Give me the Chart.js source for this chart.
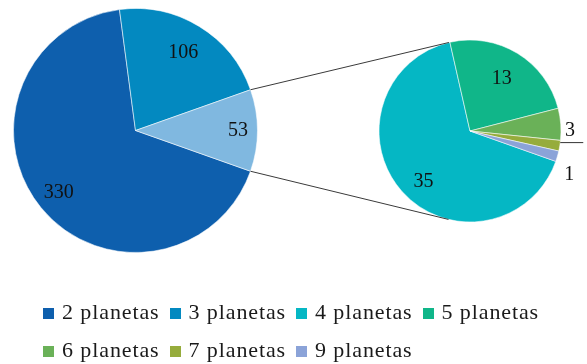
<!DOCTYPE html>
<html>
<head>
<meta charset="utf-8">
<script src="https://cdn.jsdelivr.net/npm/chart.js@4.4.1/dist/chart.umd.min.js"></script>
<style>
  html, body { margin: 0; padding: 0; background: #fff; }
  #stage { position: relative; width: 587px; height: 364px; overflow: hidden; font-family: "Liberation Serif", serif; }
  #stage canvas { position: absolute; }
  .item { position: absolute; height: 22px; line-height: 22px; font-size: 22px; color: #1a1a1a; white-space: nowrap; letter-spacing: 0.9px; }
  .sw { position: absolute; width: 11px; height: 11px; }
</style>
</head>
<body>
<div id="stage">
  <canvas id="mainPie" width="245" height="245" style="left:13px;top:8px"></canvas>
  <canvas id="detailPie" width="227" height="222" style="left:360px;top:20px"></canvas>
  <canvas id="links" width="587" height="364" style="left:0;top:0;pointer-events:none"></canvas>
</div>
<script>
// Planetary systems by number of known planets
const categories   = ['2 planetas', '3 planetas', '4 planetas', '5 planetas', '6 planetas', '7 planetas', '9 planetas'];
const systemCounts = [330, 106, 35, 13, 3, 1, 1];
const mainSliceCount = 2;          // categories shown on their own in the main pie
const otherLabel = 'Otros';

const sliceColors = ['#0e5fad', '#0389c0', '#05b7c4', '#10b689', '#6ab158', '#96ac3c', '#8ba3d8'];
const otherColor  = '#80b8e0';

// Main pie: the first categories plus one slice that groups the rest
const mainLabels = categories.slice(0, mainSliceCount).concat([otherLabel]);
const restValues = systemCounts.slice(mainSliceCount);
const mainValues = systemCounts.slice(0, mainSliceCount).concat([restValues.reduce((a, b) => a + b, 0)]);
const detailLabels = categories.slice(mainSliceCount);

// Rotate so the grouped slice is centred at 3 o'clock
const mainTotal = mainValues.reduce((a, b) => a + b, 0);
const before = mainValues.slice(0, -1).reduce((a, b) => a + b, 0);
const otherSweep = mainValues[mainValues.length - 1] / mainTotal * 360;
const startRotation = 90 - before / mainTotal * 360 - otherSweep / 2;

const labelFont = '20px "Liberation Serif", serif';

function makeLabelPlugin(placement) {
  return {
    id: 'sliceLabels',
    afterDatasetsDraw(chart) {
      const ctx = chart.ctx;
      const meta = chart.getDatasetMeta(0);
      const values = chart.data.datasets[0].data;
      ctx.save();
      ctx.font = labelFont;
      ctx.fillStyle = '#111';
      ctx.strokeStyle = '#333';
      ctx.lineWidth = 1;
      ctx.textBaseline = 'middle';
      meta.data.forEach((arc, i) => {
        const p = placement[i] || { f: 0.75 };
        const mid = (arc.startAngle + arc.endAngle) / 2 + (p.turn || 0) * Math.PI / 180;
        const r = arc.outerRadius;
        if (p.leader) {
          const ex = arc.x + Math.cos(mid) * r;
          const ey = arc.y + Math.sin(mid) * r;
          ctx.beginPath();
          ctx.moveTo(ex, ey);
          ctx.lineTo(ex + p.leader, ey);
          ctx.stroke();
          ctx.textAlign = 'left';
          ctx.fillText(String(values[i]), ex + p.leader + 2, ey);
        } else {
          ctx.textAlign = 'center';
          ctx.fillText(String(values[i]), arc.x + Math.cos(mid) * r * p.f, arc.y + Math.sin(mid) * r * p.f);
        }
      });
      ctx.restore();
    }
  };
}

function pieConfig(labels, values, colors, padding, placement) {
  return {
    type: 'pie',
    data: {
      labels: labels,
      datasets: [{
        data: values,
        backgroundColor: colors,
        borderColor: 'rgba(255,255,255,0.55)',
        borderWidth: 1
      }]
    },
    options: {
      responsive: false,
      animation: false,
      devicePixelRatio: 1,
      rotation: startRotation,
      layout: { padding: padding },
      plugins: { legend: { display: false }, tooltip: { enabled: false } }
    },
    plugins: [makeLabelPlugin(placement)]
  };
}

function drawLinks(mainChart, detailChart) {
  // Connector lines from the grouped slice to the tangents of the detail pie
  const mainCanvas = document.getElementById('mainPie');
  const detailCanvas = document.getElementById('detailPie');
  const ctx = document.getElementById('links').getContext('2d');
  const arc = mainChart.getDatasetMeta(0).data[mainValues.length - 1];
  const mx = mainCanvas.offsetLeft + arc.x, my = mainCanvas.offsetTop + arc.y;
  const detailArc = detailChart.getDatasetMeta(0).data[0];
  const cx = detailCanvas.offsetLeft + detailArc.x, cy = detailCanvas.offsetTop + detailArc.y;
  const R = detailArc.outerRadius;

  function tangent(px, py, sign) {
    const d = Math.hypot(px - cx, py - cy);
    const base = Math.atan2(py - cy, px - cx);
    const a = base + sign * Math.acos(R / d);
    return [cx + Math.cos(a) * R, cy + Math.sin(a) * R];
  }

  const p1 = [mx + Math.cos(arc.startAngle) * arc.outerRadius, my + Math.sin(arc.startAngle) * arc.outerRadius];
  const p2 = [mx + Math.cos(arc.endAngle) * arc.outerRadius, my + Math.sin(arc.endAngle) * arc.outerRadius];
  const t1 = tangent(p1[0], p1[1], 1);
  const t2 = tangent(p2[0], p2[1], -1);

  ctx.strokeStyle = '#3a3a3a';
  ctx.lineWidth = 1;
  ctx.beginPath();
  ctx.moveTo(p1[0], p1[1]); ctx.lineTo(t1[0], t1[1]);
  ctx.moveTo(p2[0], p2[1]); ctx.lineTo(t2[0], t2[1]);
  ctx.stroke();
}

function buildLegend() {
  // Four entries per row
  const stage = document.getElementById('stage');
  const perRow = 4, colWidth = 126.5, left0 = 43, rowTops = [301, 339];
  categories.forEach((name, i) => {
    const row = Math.floor(i / perRow), col = i % perRow;
    const x = left0 + col * colWidth, y = rowTops[row];
    const sw = document.createElement('div');
    sw.className = 'sw';
    sw.style.left = x + 'px';
    sw.style.top = (y + 7) + 'px';
    sw.style.background = sliceColors[i];
    stage.appendChild(sw);
    const t = document.createElement('div');
    t.className = 'item';
    t.style.left = (x + 19) + 'px';
    t.style.top = y + 'px';
    t.textContent = name;
    stage.appendChild(t);
  });
}

function init() {
  const mainChart = new Chart(document.getElementById('mainPie'), pieConfig(
    mainLabels, mainValues,
    sliceColors.slice(0, mainSliceCount).concat([otherColor]),
    0,
    [{ f: 0.81 }, { f: 0.75 }, { f: 0.84 }]
  ));
  const detailChart = new Chart(document.getElementById('detailPie'), pieConfig(
    detailLabels, restValues,
    sliceColors.slice(mainSliceCount),
    { left: 18.5, right: 25.5, top: 19.5, bottom: 19.5 },
    [{ f: 0.76, turn: -6 }, { f: 0.67 }, { f: 1.1, turn: 4 }, { leader: 23, turn: -2 }, { f: 1.19, turn: 7.6 }]
  ));
  drawLinks(mainChart, detailChart);
}

buildLegend();
document.fonts.load(labelFont).then(init, init);
</script>
</body>
</html>
